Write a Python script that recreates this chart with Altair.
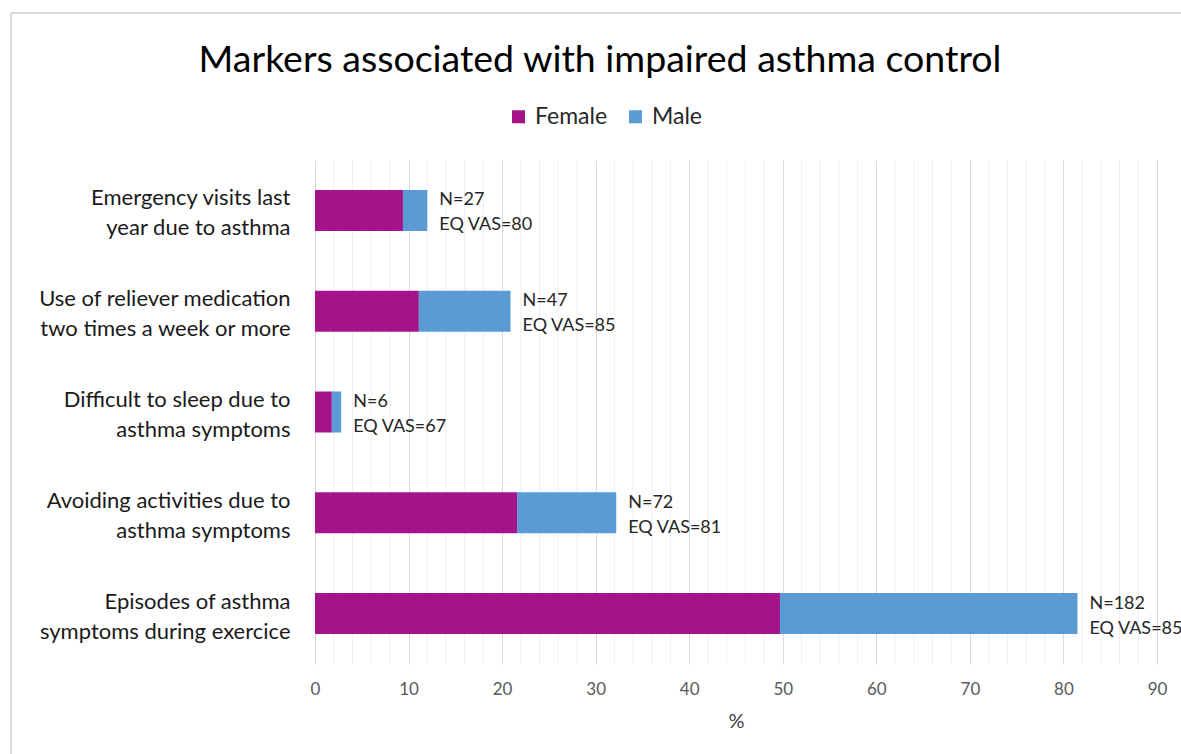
import altair as alt
import pandas as pd

categories = [
    "Emergency visits last|year due to asthma",
    "Use of reliever medication|two times a week or more",
    "Difficult to sleep due to|asthma symptoms",
    "Avoiding activities due to|asthma symptoms",
    "Episodes of asthma|symptoms during exercice",
]
female = [9.4, 11.1, 1.8, 21.6, 49.7]
male = [2.6, 9.8, 1.0, 10.6, 31.8]
n_values = [27, 47, 6, 72, 182]
eq_vas = [80, 85, 67, 81, 85]
minor_ticks = [v for v in range(2, 90, 2) if v % 10 != 0]
major_ticks = list(range(0, 100, 10))

FONT = "Lato"
FEMALE_C = "#A3148A"
MALE_C = "#5B9BD5"

rows = []
for c, f, m in zip(categories, female, male):
    rows.append({"cat": c, "sex": "Female", "val": f})
    rows.append({"cat": c, "sex": "Male", "val": m})
bars_df = pd.DataFrame(rows)

lab_df = pd.DataFrame({
    "cat": categories,
    "total": [f + m for f, m in zip(female, male)],
    "txt": [f"N={n}\nEQ VAS={v}" for n, v in zip(n_values, eq_vas)],
})
minor_df = pd.DataFrame({"x": minor_ticks})

x_scale = alt.Scale(domain=[0, 90], nice=False)
y_scale = alt.Scale(domain=categories, paddingInner=0.593, paddingOuter=0.2965)

minor = alt.Chart(minor_df).mark_rule(color="#EFEFEF", strokeWidth=1).encode(
    x=alt.X("x:Q", scale=x_scale)
)

bars = alt.Chart(bars_df).mark_bar(stroke=None).encode(
    x=alt.X("sum(val):Q", scale=x_scale, stack="zero",
            axis=alt.Axis(values=major_ticks, title="%", grid=True,
                          gridColor="#D9D9D9", domain=False, ticks=False,
                          labelFlush=False,
                          labelPadding=17, labelFontSize=17, labelColor="#595959",
                          labelFont=FONT, titleFont=FONT, titleFontSize=20,
                          titleFontWeight="normal", titleColor="#404040",
                          titlePadding=14)),
    y=alt.Y("cat:N", scale=y_scale, sort=categories,
            axis=alt.Axis(title=None, domain=False, ticks=False, grid=False,
                          labelPadding=25, labelFontSize=22, labelFont=FONT,
                          labelColor="#1a1a1a", labelLineHeight=30, labelLimit=400,
                          labelOffset=-12,
                          labelExpr="split(datum.label, '|')")),
    color=alt.Color("sex:N",
                    scale=alt.Scale(domain=["Female", "Male"], range=[FEMALE_C, MALE_C]),
                    legend=alt.Legend(title=None, orient="none", direction="horizontal",
                                      legendX=192, legendY=-55, symbolType="square",
                                      symbolSize=170, symbolStrokeWidth=0,
                                      labelFontSize=23, labelFont=FONT,
                                      labelColor="#262626", labelOffset=5,
                                      columnPadding=16)),
    order=alt.Order("sex:N", sort="ascending"),
)

labels = alt.Chart(lab_df).mark_text(
    align="left", baseline="middle", dx=12, dy=-10, lineBreak="\n", lineHeight=25,
    fontSize=18, font=FONT, color="#262626"
).encode(
    x=alt.X("total:Q", scale=x_scale),
    y=alt.Y("cat:N", scale=y_scale, sort=categories),
    text="txt:N",
)

frame_top = alt.Chart(minor_df).mark_rule(color="#D9D9D9", strokeWidth=2).encode(
    x=alt.value(-304), x2=alt.value(880), y=alt.value(-147)
)
frame_left = alt.Chart(minor_df).mark_rule(color="#D9D9D9", strokeWidth=2).encode(
    x=alt.value(-304), y=alt.value(-147), y2=alt.value(600)
)

chart = alt.layer(minor, bars, labels, frame_top, frame_left).properties(
    width=842, height=504,
    autosize=alt.AutoSizeParams(type="none"),
    padding={"left": 315, "top": 160, "right": 24, "bottom": 90},
    title=alt.Title("Markers associated with impaired asthma control",
                    font=FONT, fontSize=37.5, fontWeight="normal", color="#000000",
                    anchor="middle", dx=-136, offset=-67),
).configure_view(stroke=None)

chart.save("out.html", embed_options={"renderer": "svg", "actions": False})
